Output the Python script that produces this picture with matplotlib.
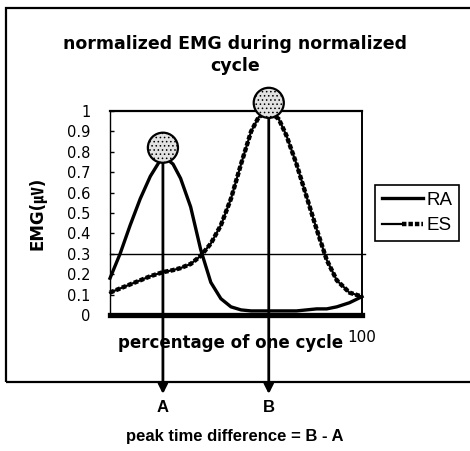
import matplotlib
matplotlib.use("Agg")
import matplotlib.pyplot as plt
from matplotlib.patches import Rectangle
from matplotlib.legend_handler import HandlerTuple

plt.rcParams['font.family'] = ['DejaVu Sans', 'Noto Sans CJK KR']
plt.rcParams['hatch.linewidth'] = 0.6

# percentage of one cycle
pct = [0, 4, 8, 12, 16, 21, 25, 28, 32, 36, 40, 44, 48, 52, 56, 59, 63,
       67, 70, 74, 78, 82, 86, 90, 95, 100]
# normalized EMG
ra = [0.18, 0.30, 0.44, 0.57, 0.68, 0.78, 0.74, 0.67, 0.53, 0.32, 0.16,
      0.08, 0.04, 0.025, 0.02, 0.02, 0.02, 0.02, 0.02, 0.02, 0.025, 0.03,
      0.03, 0.04, 0.06, 0.09]
es = [0.11, 0.13, 0.15, 0.17, 0.19, 0.21, 0.22, 0.23, 0.25, 0.29, 0.35,
      0.44, 0.57, 0.74, 0.90, 0.97, 1.0, 0.96, 0.88, 0.74, 0.58, 0.42,
      0.27, 0.17, 0.11, 0.09]
yticks = [0, 0.1, 0.2, 0.3, 0.4, 0.5, 0.6, 0.7, 0.8, 0.9, 1]
ytick_labels = ['0', '0.1', '0.2', '0.3', '0.4', '0.5', '0.6', '0.7',
                '0.8', '0.9', '1']
peak_names = ['A', 'B']
threshold = 0.3

W, H = 470, 451
fig = plt.figure(figsize=(W / 100, H / 100), dpi=100)

def fx(px):
    return px / W

def fy(py):
    return 1 - py / H

# outer frame
fig.patches.append(Rectangle((fx(6), fy(382)), 1.2, fy(8) - fy(382),
                             transform=fig.transFigure, fill=False,
                             edgecolor='black', lw=1.6))

ax = fig.add_axes([fx(110), fy(315), fx(362) - fx(110), fy(111) - fy(315)])

ax.plot(pct, ra, color='black', lw=2.4, clip_on=False, zorder=3)
es_base, = ax.plot(pct, es, color='black', lw=1.6, clip_on=False, zorder=3)
es_dots, = ax.plot(pct, es, color='black', lw=3.2, ls=(0, (1, 0.45)),
                   clip_on=False, zorder=3)
ra_handle = plt.Line2D([], [], color='black', lw=2.4)

ax.axhline(threshold, color='black', lw=1.0, xmax=1.01, clip_on=False)

ax.set_xlim(0, 100)
ax.set_ylim(0, 1)
ax.set_yticks(yticks)
ax.set_yticklabels(ytick_labels)
ax.set_xticks([100])
ax.set_xticklabels(['100'])
ax.tick_params(axis='y', direction='in', length=3, width=1, pad=14,
               labelsize=10.5)
ax.tick_params(axis='x', length=0, pad=11, labelsize=11)

ax.spines['bottom'].set_linewidth(3.8)
ax.spines['top'].set_linewidth(1.6)
ax.spines['right'].set_linewidth(1.4)
ax.spines['left'].set_linewidth(1.0)

# peaks: circle markers and arrows down to the labels
i_a = ra.index(max(ra))
i_b = es.index(max(es))
peaks = [(pct[i_a], ra[i_a]), (pct[i_b], es[i_b])]
for (px, pv), name in zip(peaks, peak_names):
    ax.scatter([px], [pv + 0.04], s=470, facecolor='#e2e2e2',
               edgecolor='black', hatch='....', lw=1.6, zorder=5,
               clip_on=False)
    ax.annotate('', xy=(px, fy(394)), xycoords=('data', 'figure fraction'),
                xytext=(px, pv), textcoords='data',
                arrowprops=dict(arrowstyle='-|>', color='black', lw=2,
                                mutation_scale=14, shrinkA=0, shrinkB=0),
                annotation_clip=False, zorder=4)
    ax.annotate(name, xy=(px, fy(408)), xycoords=('data', 'figure fraction'),
                ha='center', va='center', fontsize=12, fontweight='bold',
                family='Liberation Sans', annotation_clip=False)

fig.text(0.5, fy(55), 'normalized EMG during normalized\ncycle',
         ha='center', va='center', fontsize=12.5, fontweight='bold',
         linespacing=1.25)
fig.text(fx(231), fy(343), 'percentage of one cycle', ha='center',
         va='center', fontsize=12, fontweight='bold')
fig.text(fx(37), fy(213), 'EMG(㎶)', ha='center', va='center',
         rotation=90, fontsize=12, fontweight='bold')
fig.text(fx(235), fy(437), 'peak time difference = B - A', ha='center',
         va='center', fontsize=12, fontweight='bold', family='Liberation Sans')

leg = ax.legend([ra_handle, (es_base, es_dots)], ['RA', 'ES'],
                handler_map={tuple: HandlerTuple(ndivide=None, pad=0)},
                loc='upper left', bbox_to_anchor=(fx(375), fy(185)),
                bbox_transform=fig.transFigure, borderaxespad=0,
                frameon=True, fancybox=False, edgecolor='black',
                framealpha=1, handlelength=2.2, handletextpad=0.2,
                borderpad=0.35, labelspacing=0.45,
                prop={'family': 'Liberation Sans', 'size': 13.5})
leg.get_frame().set_linewidth(1.2)

fig.savefig('out.png', dpi=100)
